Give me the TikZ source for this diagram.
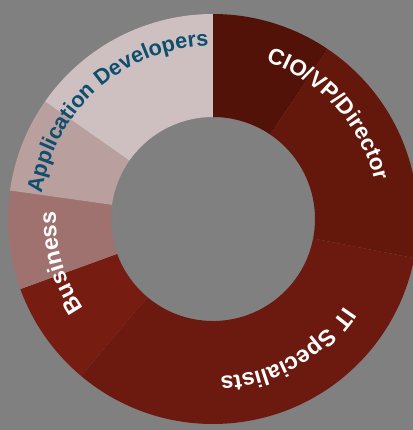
\documentclass[tikz,border=0pt]{standalone}
\usepackage{fontspec}
\setmainfont{Liberation Sans}
\usetikzlibrary{decorations.text}

\definecolor{bggray}{RGB}{128,128,128}
\definecolor{cioA}{RGB}{83,18,8}
\definecolor{cioB}{RGB}{100,23,11}
\definecolor{itspec}{RGB}{108,25,15}
\definecolor{busA}{RGB}{118,28,16}
\definecolor{busB}{RGB}{159,114,112}
\definecolor{appA}{RGB}{185,160,159}
\definecolor{appB}{RGB}{206,192,192}
\definecolor{applabel}{RGB}{14,78,110}

% angle, radius, size, colour, text
\newcommand\ringtext[5]{%
  \path[decorate,decoration={text along path,text align=center,text color=#4,
    text={|\bfseries\fontsize{#3}{#3}\selectfont|#5}}]
    (#1+70:#2) arc[start angle=#1+70, end angle=#1-70, radius=#2];}

\begin{document}
\begin{tikzpicture}[x=0.25mm,y=0.25mm]
\fill[bggray] (-213,-211) rectangle (200,219);
\clip (-213,-211) rectangle (200,219);
% ring
\foreach \a/\b/\c in {90/56/cioA, 56/-11/cioB, -11/-130/itspec, -130/-160/busA,
  200/172/busB, 172/145/appA, 145/90/appB}
  \fill[\c] (\a:102) arc[start angle=\a, end angle=\b, radius=102]
    -- (\b:205) arc[start angle=\b, end angle=\a, radius=205] -- cycle;
% labels
\ringtext{42.3}{166}{16}{white}{CIO/VP/Director}
\ringtext{-60.5}{158}{16.5}{white}{IT Specialists}
\ringtext{196}{157}{16.5}{white}{Business}
\ringtext{131.5}{173}{15.5}{applabel}{Application Developers}
\end{tikzpicture}
\end{document}
